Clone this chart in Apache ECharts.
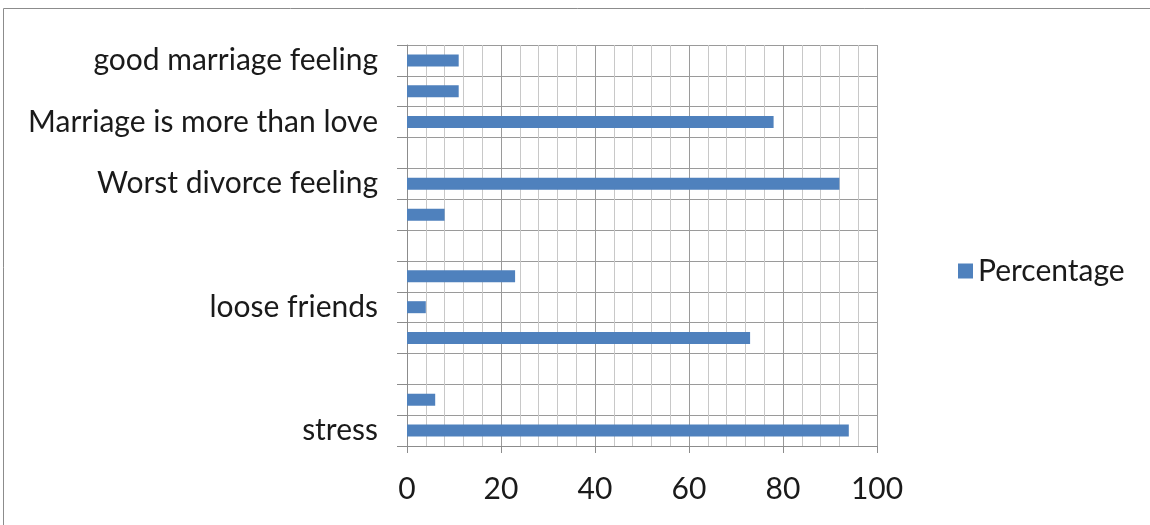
<!DOCTYPE html>
<html>
<head>
<meta charset="utf-8">
<script src="https://cdn.jsdelivr.net/npm/echarts@6/dist/echarts.min.js"></script>
<style>
  html, body { margin: 0; padding: 0; background: #fff; }
  #chart { width: 1150px; height: 525px; }
</style>
</head>
<body>
<div id="chart"></div>
<script>
// Categories listed bottom to top; unnamed rows carry no label.
const categories = [
  'stress', '', '', '', 'loose friends', '', '', '',
  'Worst divorce feeling', '', 'Marriage is more than love', '', 'good marriage feeling'
];
// Percentage per row (null = no bar in that row)
const percentage = [94, 6, null, 73, 4, 23, null, 8, 92, null, 78, 11, 11];
const seriesName = 'Percentage';
const xTicks = [0, 20, 40, 60, 80, 100];

const FONT = 'Lato, "Open Sans", sans-serif';
const chart = echarts.init(document.getElementById('chart'), null, { renderer: 'canvas' });

chart.setOption({
  animation: false,
  backgroundColor: '#ffffff',
  graphic: [{
    type: 'rect',
    shape: { x: 3.5, y: 8.5, width: 1200, height: 600 },
    style: { fill: 'none', stroke: '#8c8c8c', lineWidth: 1 },
    silent: true
  }],
  grid: { left: 407, top: 45, width: 470, height: 401, containLabel: false },
  legend: {
    data: [seriesName],
    left: 953,
    top: 251,
    orient: 'vertical',
    icon: 'rect',
    itemWidth: 15,
    itemHeight: 15,
    itemGap: 10,
    textStyle: { fontFamily: FONT, fontSize: 30, color: '#1a1a1a' }
  },
  xAxis: {
    type: 'value',
    min: xTicks[0],
    max: xTicks[xTicks.length - 1],
    interval: 20,
    axisLine: { show: true, lineStyle: { color: '#8c8c8c', width: 1 } },
    axisTick: { show: true, length: 7, lineStyle: { color: '#8c8c8c' } },
    axisLabel: { margin: 28, fontFamily: FONT, fontSize: 30, color: '#1a1a1a' },
    splitLine: { show: true, lineStyle: { color: '#9a9a9a', width: 1 } },
    minorTick: { show: false, splitNumber: 5 },
    minorSplitLine: { show: true, lineStyle: { color: '#c8c8c8', width: 1 } }
  },
  yAxis: {
    type: 'category',
    data: categories,
    axisLine: { show: true, lineStyle: { color: '#8c8c8c', width: 1 } },
    axisTick: { show: true, length: 10, alignWithLabel: false, lineStyle: { color: '#8c8c8c' } },
    axisLabel: { interval: 0, margin: 29, fontFamily: FONT, fontSize: 30, color: '#1a1a1a' },
    splitLine: { show: true, interval: 0, lineStyle: { color: '#9a9a9a', width: 1 } }
  },
  series: [{
    name: seriesName,
    type: 'bar',
    data: percentage,
    barWidth: 12,
    itemStyle: { color: '#4f81bd' }
  }]
});
</script>
</body>
</html>
